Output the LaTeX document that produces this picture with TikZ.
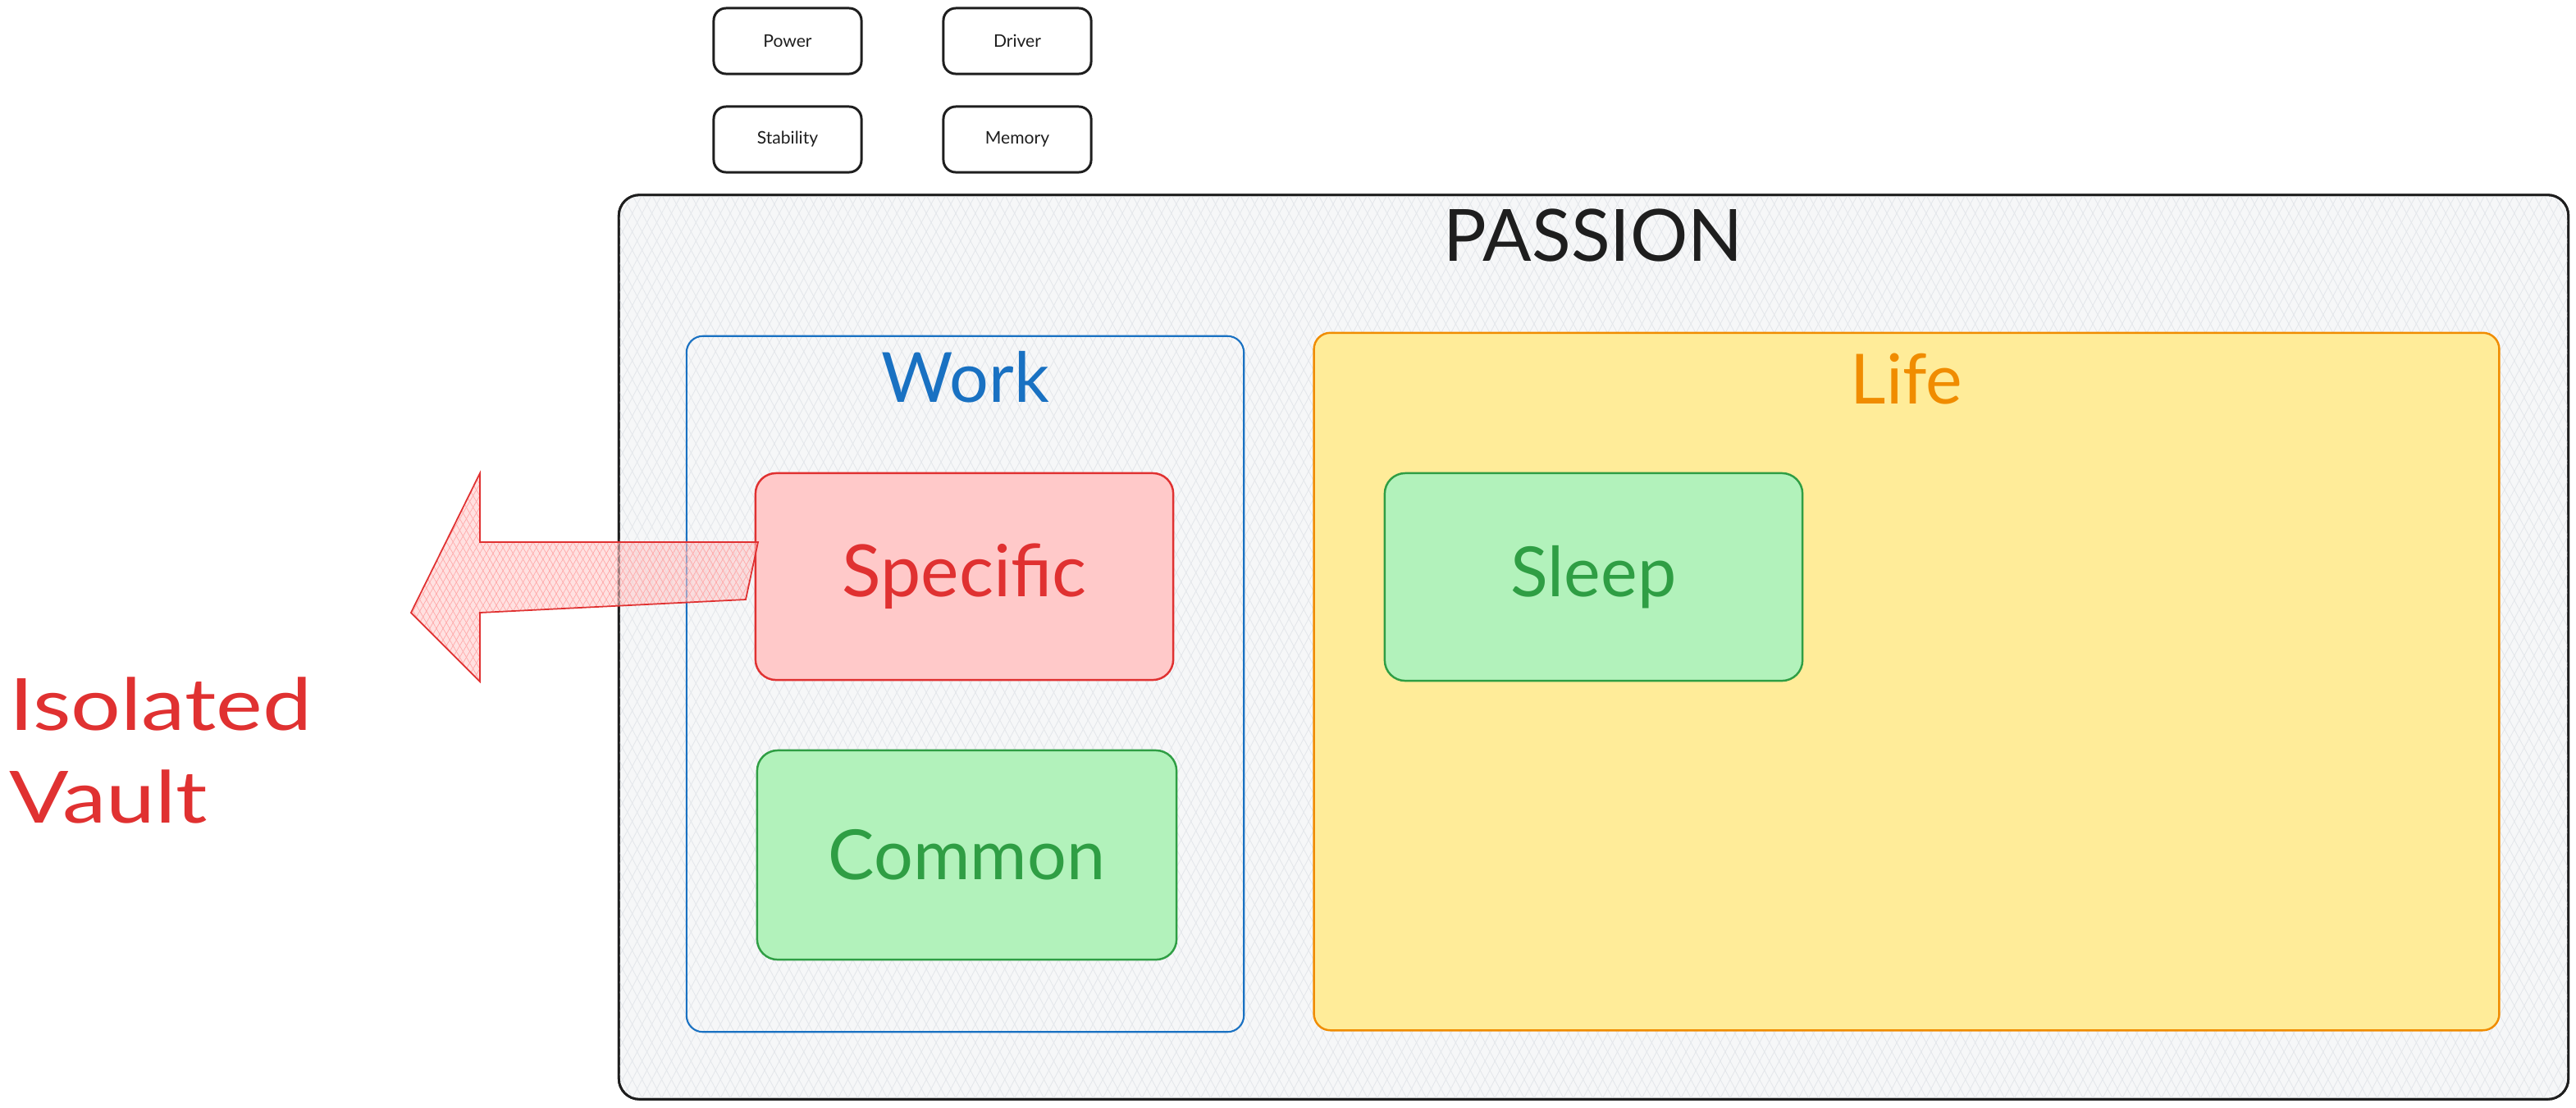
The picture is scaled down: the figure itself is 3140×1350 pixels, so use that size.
\documentclass[tikz,border=0pt]{standalone}
\usepackage{fontspec}
\setmainfont{Lato}
\newfontfamily\widefont[FakeStretch=1.22]{Lato}
\usetikzlibrary{patterns.meta}
\definecolor{ink}{HTML}{1E1E1E}
\definecolor{wblue}{HTML}{1971C2}
\definecolor{lorange}{HTML}{F08C00}
\definecolor{lyellow}{HTML}{FFEC99}
\definecolor{sred}{HTML}{E03131}
\definecolor{spink}{HTML}{FFC9C9}
\definecolor{cgreen}{HTML}{2F9E44}
\definecolor{cgreenfill}{HTML}{B2F2BB}
\definecolor{hatchgray}{HTML}{E4E7EB}
\definecolor{pfill}{HTML}{F6F7F8}
\definecolor{hatchred}{HTML}{FFA8A8}
\begin{document}
\begin{tikzpicture}[x=0.01cm,y=-0.01cm,
  smallbox/.style={draw=ink, line width=0.85pt, rounded corners=0.15cm, minimum width=1.8cm, minimum height=0.8cm, inner sep=0pt, outer sep=0pt, font=\fontsize{6}{7}\selectfont, text=ink},
  bigtext/.style={font=\fontsize{24}{28}\selectfont},
  colbox/.style={line width=0.7pt, rounded corners=0.25cm, inner sep=0pt, outer sep=0pt, minimum width=5.09cm, minimum height=2.52cm, bigtext},
]
\useasboundingbox (0,0) rectangle (3140,1350);

% small boxes
\node[smallbox] (power) at (960,50) {Power};
\node[smallbox] (driver) at (1240,50) {Driver};
\node[smallbox] (stability) at (960,170) {Stability};
\node[smallbox] (memory) at (1240,170) {Memory};

% PASSION container
\node[draw=ink, line width=0.8pt, rounded corners=0.25cm, fill=pfill,
  minimum width=23.75cm, minimum height=11.02cm, inner sep=0pt, outer sep=0pt,
  postaction={pattern={Lines[angle=62,distance=3pt,line width=0.25pt]}, pattern color=hatchgray},
  postaction={pattern={Lines[angle=118,distance=3pt,line width=0.25pt]}, pattern color=hatchgray}]
  (passion) at (1942.5,789) {};
\node[draw=ink, line width=0.8pt, rounded corners=0.25cm, minimum width=23.75cm, minimum height=11.02cm, inner sep=0pt, outer sep=0pt] at (passion.center) {};
\node[anchor=base, font=\fontsize{25}{30}\selectfont, text=ink] (passionlbl) at (1942,318) {PASSION};

% Work container
\node[draw=wblue, line width=0.6pt, rounded corners=0.2cm, minimum width=6.79cm, minimum height=8.48cm, inner sep=0pt, outer sep=0pt] (work) at (1176.5,834) {};
\node[anchor=base, bigtext, text=wblue] (worklbl) at (1177,490) {Work};

% Life container
\node[draw=lorange, fill=lyellow, line width=0.7pt, rounded corners=0.2cm, minimum width=14.44cm, minimum height=8.5cm, inner sep=0pt, outer sep=0pt] (life) at (2324,831) {};
\node[anchor=base, bigtext, text=lorange] (lifelbl) at (2324,492) {Life};

% inner boxes
\node[colbox, draw=sred, fill=spink, text=sred, font=\fontsize{25}{30}\selectfont] (specific) at (1175.5,703) {Specific};
\node[colbox, draw=cgreen, fill=cgreenfill, text=cgreen, minimum width=5.11cm, minimum height=2.55cm] (common) at (1178.5,1042.5) {Common};
\node[colbox, draw=cgreen, fill=cgreenfill, text=cgreen, minimum height=2.53cm] (sleep) at (1942.5,703.5) {Sleep};

% big arrow out of Specific
\coordinate (a1) at (924,661);
\coordinate (a2) at (909,731);
\coordinate (a3) at (585,747);
\coordinate (a4) at (585,831);
\coordinate (a5) at (501,747);
\coordinate (a6) at (585,577);
\coordinate (a7) at (585,661);
\path[fill=spink, fill opacity=0.55] (a1) -- (a2) -- (a3) -- (a4) -- (a5) -- (a6) -- (a7) -- cycle;
\path[pattern={Lines[angle=60,distance=2pt,line width=0.2pt]}, pattern color=hatchred] (a1) -- (a2) -- (a3) -- (a4) -- (a5) -- (a6) -- (a7) -- cycle;
\path[pattern={Lines[angle=120,distance=2pt,line width=0.2pt]}, pattern color=hatchred] (a1) -- (a2) -- (a3) -- (a4) -- (a5) -- (a6) -- (a7) -- cycle;
\draw[sred, line width=0.5pt, line join=miter] (a1) -- (a2) -- (a3) -- (a4) -- (a5) -- (a6) -- (a7) -- cycle;

% Isolated Vault
\node[anchor=base west, inner sep=0pt, font=\widefont\fontsize{25}{32}\selectfont, text=sred] (isolated) at (11,890) {Isolated};
\node[anchor=base west, inner sep=0pt, font=\widefont\fontsize{25}{32}\selectfont, text=sred] (vault) at (11,1003) {Vault};
\end{tikzpicture}
\end{document}
